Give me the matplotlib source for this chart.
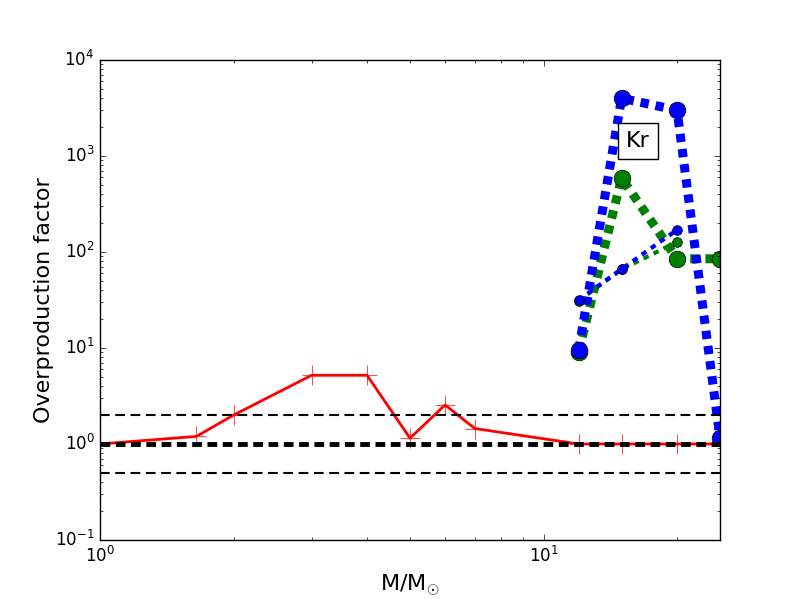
import numpy as np
import matplotlib
matplotlib.use('Agg')
import matplotlib.pyplot as plt

plt.style.use('classic')

# masas y factores de sobreproducción
masa_red = [1.0, 1.65, 2.0, 3.0, 4.0, 5.0, 6.0, 7.0, 12.0, 15.0, 20.0, 25.0]
fac_red = [1.0, 1.2, 2.0, 5.2, 5.2, 1.15, 2.55, 1.45, 1.0, 1.0, 1.0, 1.0]

masa_kr = [12.0, 15.0, 20.0, 25.0]
kr_azul = [9.5, 4000.0, 3000.0, 1.15]
kr_verde = [9.1, 590.0, 85.0, 85.0]

masa_fina = [12.0, 15.0, 20.0]
fina_verde = [31.0, 66.0, 127.0]
fina_azul = [31.6, 66.5, 170.0]

fig = plt.figure(figsize=(8, 6), dpi=100)
ax = fig.add_subplot(111)

ax.plot(masa_kr, kr_verde, color='green', dashes=(6, 5), linewidth=6.5,
        marker='o', markersize=12)
ax.plot(masa_kr, kr_azul, color='blue', dashes=(6, 5), linewidth=6.5,
        marker='o', markersize=12)
ax.plot(masa_fina, fina_verde, color='green', dashes=(4, 4), linewidth=3,
        marker='o', markersize=7)
ax.plot(masa_fina, fina_azul, color='blue', dashes=(4, 4), linewidth=3,
        marker='o', markersize=7)

ax.plot(masa_red, fac_red, color='red', linewidth=2, marker='+',
        markersize=15, markeredgecolor='red')

ax.axhline(2.0, color='black', dashes=(7, 4), linewidth=1.5)
ax.axhline(1.0, color='black', dashes=(7, 4), linewidth=3.5)
ax.axhline(0.5, color='black', dashes=(7, 4), linewidth=1.5)

ax.set_xscale('log')
ax.set_yscale('log')
ax.set_xlim(1, 25)
ax.set_ylim(0.1, 1e4)

ax.set_xlabel(r'M/M$_{\odot}$', fontsize=16)
ax.set_ylabel('Overproduction factor', fontsize=16, labelpad=1)

ax.text(0.868, 0.831, 'Kr', transform=ax.transAxes, fontsize=16,
        ha='center', va='center',
        bbox=dict(boxstyle='square,pad=0.35', facecolor='white', edgecolor='black'))

fig.savefig('out.png', dpi=100)
